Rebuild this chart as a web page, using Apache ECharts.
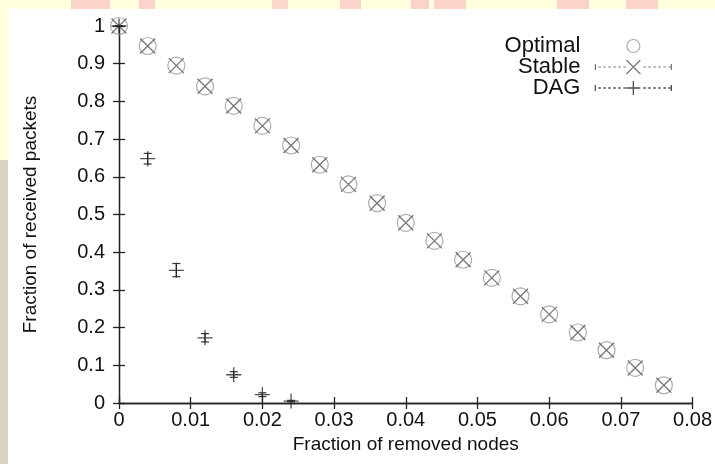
<!DOCTYPE html>
<html>
<head>
<meta charset="utf-8">
<script src="https://cdn.jsdelivr.net/npm/echarts@6/dist/echarts.min.js"></script>
<style>
  html, body { margin:0; padding:0; width:715px; height:464px; overflow:hidden; background:#fffedd; }
  .bg { position:absolute; }
  #chart { position:absolute; left:0; top:0; width:715px; height:464px; }
</style>
</head>
<body>
<div class="bg" style="left:0;top:160px;width:8px;height:304px;background:#dbd3c2;"></div>
<div class="bg" style="left:71px;top:0;width:39px;height:9px;background:#fbd3cb;"></div>
<div class="bg" style="left:139px;top:0;width:16px;height:9px;background:#fbd3cb;"></div>
<div class="bg" style="left:272px;top:0;width:16px;height:9px;background:#fbd8cc;"></div>
<div class="bg" style="left:340px;top:0;width:21px;height:9px;background:#fbd3cb;"></div>
<div class="bg" style="left:411px;top:0;width:18px;height:9px;background:#fbd3cb;"></div>
<div class="bg" style="left:434px;top:0;width:32px;height:9px;background:#fbd3cb;"></div>
<div class="bg" style="left:557px;top:0;width:32px;height:9px;background:#fbd3cb;"></div>
<div class="bg" style="left:626px;top:0;width:32px;height:9px;background:#fbd3cb;"></div>
<div class="bg" style="left:8px;top:9px;width:707px;height:455px;background:#ffffff;"></div>
<div id="chart"></div>
<script>
// ---- data ----
const xLabel = 'Fraction of removed nodes';
const yLabel = 'Fraction of received packets';
const xTicks = ['0', '0.01', '0.02', '0.03', '0.04', '0.05', '0.06', '0.07', '0.08'];
const removedFrac = [0, 0.004, 0.008, 0.012, 0.016, 0.02, 0.024, 0.028, 0.032, 0.036,
                     0.04, 0.044, 0.048, 0.052, 0.056, 0.06, 0.064, 0.068, 0.072, 0.076];
const optimal = [1, 0.947, 0.895, 0.84, 0.788, 0.735, 0.683, 0.632, 0.58, 0.53,
                 0.478, 0.43, 0.38, 0.332, 0.283, 0.235, 0.187, 0.14, 0.093, 0.047];
const stable  = [1, 0.947, 0.895, 0.84, 0.788, 0.735, 0.683, 0.632, 0.58, 0.53,
                 0.478, 0.43, 0.38, 0.332, 0.283, 0.235, 0.187, 0.14, 0.093, 0.047];
const dagX    = [0, 0.004, 0.008, 0.012, 0.016, 0.02, 0.024];
const dag     = [1, 0.648, 0.352, 0.173, 0.075, 0.022, 0.005];
const dagLow  = [1, 0.634, 0.335, 0.162, 0.068, 0.017, 0.003];
const dagHigh = [1, 0.662, 0.370, 0.184, 0.083, 0.027, 0.007];
const seriesNames = ['Optimal', 'Stable', 'DAG'];

const FONT = 'Liberation Sans, Arial, Helvetica, sans-serif';
const crossPath = 'path://M0,0L10,10M10,0L0,10';
const plusPath = 'path://M5,0L5,10M0,5L10,5';

function legendIcon(marker) {
  // box 76x14: optional dashed line with end caps, marker in the middle
  if (marker === 'o') {
    return 'path://M0,0L0,0M76,14L76,14M31.5,7A6.5,6.5,0,1,1,44.5,7A6.5,6.5,0,1,1,31.5,7';
  }
  let p = 'path://M0,4L0,10';
  for (let x = 3; x < 30; x += 5) p += 'M' + x + ',7L' + (x + 2.5) + ',7';
  if (marker === 'x') p += 'M31,0L45,14M45,0L31,14';
  else p += 'M31,7L45,7M38,0L38,14';
  for (let x = 48; x < 74; x += 5) p += 'M' + x + ',7L' + (x + 2.5) + ',7';
  p += 'M76,4L76,10';
  return p;
}

const legendItems = [
  {name: seriesNames[0], icon: legendIcon('o'),
   itemStyle: {color: 'transparent', borderColor: '#999', borderWidth: 1.2}},
  {name: seriesNames[1], icon: legendIcon('x'),
   itemStyle: {color: 'transparent', borderColor: '#555', borderWidth: 1.2}},
  {name: seriesNames[2], icon: legendIcon('+'),
   itemStyle: {color: 'transparent', borderColor: '#222', borderWidth: 1.3}}
];
const legendTops = [35, 56, 77];

const chart = echarts.init(document.getElementById('chart'), null, {renderer: 'canvas'});
const axisLine = {show: true, lineStyle: {color: '#222', width: 1.3}};
const axisTick = {show: true, inside: true, length: 6, lineStyle: {color: '#222', width: 1.3}};

chart.setOption({
  backgroundColor: 'transparent',
  animation: false,
  textStyle: {fontFamily: FONT},
  grid: {left: 119, right: 17, top: 26, bottom: 61, containLabel: false},
  legend: legendItems.map((it, i) => ({
    orient: 'vertical', align: 'right', right: 43, top: legendTops[i],
    itemWidth: 76, itemHeight: 14, padding: 0, selectedMode: false,
    textStyle: {fontFamily: FONT, fontSize: 22, color: '#111', padding: [0, 10, 0, 0]},
    data: [it]
  })),
  xAxis: [{
    type: 'value', min: 0, max: 0.08, interval: 0.01,
    name: xLabel, nameLocation: 'middle', nameGap: 29,
    nameTextStyle: {fontFamily: FONT, fontSize: 19, color: '#111'},
    axisLine, axisTick, splitLine: {show: false},
    axisLabel: {fontFamily: FONT, fontSize: 20, color: '#111', margin: 7,
      formatter: (v) => xTicks[Math.round(v * 100)]}
  }, {
    type: 'value', min: 0, max: 0.08, interval: 0.01, position: 'top',
    axisLine, axisTick, axisLabel: {show: false}, splitLine: {show: false}
  }],
  yAxis: [{
    type: 'value', min: 0, max: 1, interval: 0.1,
    name: yLabel, nameLocation: 'middle', nameGap: 79,
    nameTextStyle: {fontFamily: FONT, fontSize: 19, color: '#111'},
    axisLine, axisTick, splitLine: {show: false},
    axisLabel: {fontFamily: FONT, fontSize: 20, color: '#111', margin: 14,
      formatter: (v) => String(Math.round(v * 10) / 10)}
  }, {
    type: 'value', min: 0, max: 1, interval: 0.1, position: 'right',
    axisLine, axisTick, axisLabel: {show: false}, splitLine: {show: false}
  }],
  series: [
    {
      name: seriesNames[0], type: 'scatter', symbol: 'circle', symbolSize: 17,
      itemStyle: {color: 'transparent', borderColor: '#999', borderWidth: 1.2},
      data: removedFrac.map((x, i) => [x, optimal[i]]), z: 2
    },
    {
      name: seriesNames[1], type: 'scatter', symbol: crossPath, symbolSize: 15,
      itemStyle: {color: 'transparent', borderColor: '#555', borderWidth: 1.3},
      data: removedFrac.map((x, i) => [x, stable[i]]), z: 3
    },
    {
      name: seriesNames[2], type: 'scatter', symbol: plusPath, symbolSize: 15,
      itemStyle: {color: 'transparent', borderColor: '#222', borderWidth: 1.3},
      data: dagX.map((x, i) => [x, dag[i]]), z: 4
    },
    {
      name: 'DAG err', type: 'custom', z: 4, silent: true,
      renderItem: function (params, api) {
        const x = api.value(0);
        const lo = api.coord([x, api.value(1)]);
        const hi = api.coord([x, api.value(2)]);
        const w = 4;
        const st = {stroke: '#333', lineWidth: 1.2};
        return {type: 'group', children: [
          {type: 'line', shape: {x1: lo[0], y1: lo[1], x2: hi[0], y2: hi[1]}, style: st},
          {type: 'line', shape: {x1: lo[0] - w, y1: lo[1], x2: lo[0] + w, y2: lo[1]}, style: st},
          {type: 'line', shape: {x1: hi[0] - w, y1: hi[1], x2: hi[0] + w, y2: hi[1]}, style: st}
        ]};
      },
      data: dagX.map((x, i) => [x, dagLow[i], dagHigh[i]])
    }
  ]
});
</script>
</body>
</html>
